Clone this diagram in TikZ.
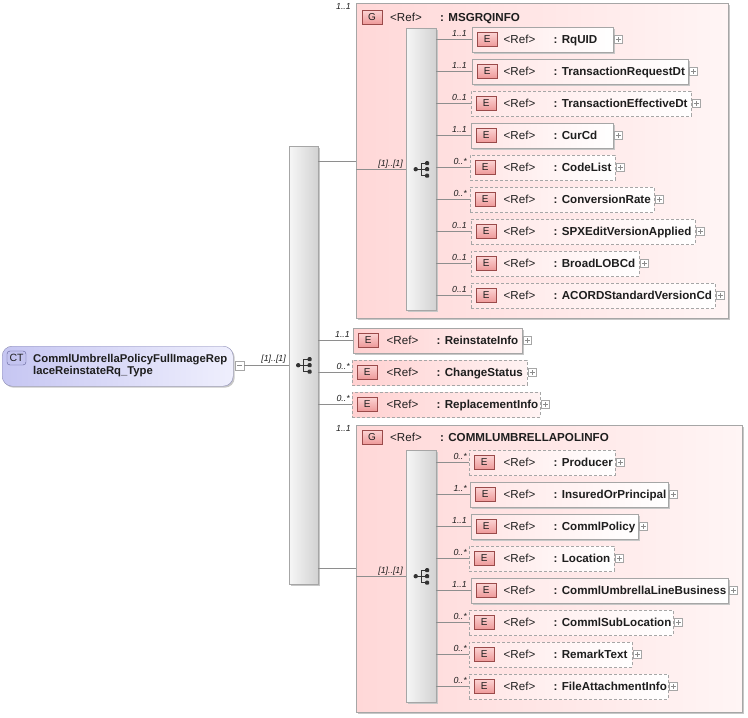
\documentclass[tikz,border=0pt]{standalone}
\usepackage{fontspec}
\setmainfont{Liberation Sans}
\usetikzlibrary{shadows}
\definecolor{grpL}{HTML}{FFD8D8}
\definecolor{grpR}{HTML}{FFF5F5}
\definecolor{elL}{HTML}{FFD0D0}
\definecolor{elR}{HTML}{FFF3F3}
\definecolor{elinL}{HTML}{FFE6E6}
\definecolor{bord}{HTML}{A6A6A6}
\definecolor{conn}{HTML}{8E8E8E}
\definecolor{badgeT}{HTML}{FBD2D2}
\definecolor{badgeB}{HTML}{EE9898}
\definecolor{badgeD}{HTML}{9A4A4A}
\definecolor{ctL}{HTML}{C6C6F2}
\definecolor{ctR}{HTML}{EFEFFD}
\definecolor{ctD}{HTML}{8C8CB4}
\definecolor{ctbF}{HTML}{C4C4F0}
\definecolor{ctbD}{HTML}{5E5E96}
\definecolor{seqL}{HTML}{F6F6F6}
\definecolor{seqR}{HTML}{D2D2D2}
\definecolor{txt}{HTML}{1E1E1E}
\newcommand\fN{\fontsize{11.6}{12}\selectfont}
\tikzset{
  sh/.style={drop shadow={shadow xshift=1.5pt,shadow yshift=-1.5pt,fill=black!22,opacity=1}},
  cn/.style={draw=conn,line width=0.6pt},
  seqbox/.style={draw=bord,left color=seqL,right color=seqR,sh,inner sep=0pt,anchor=north west},
  grpbox/.style={draw=bord,left color=grpL,right color=grpR,sh,inner sep=0pt,anchor=north west},
  elbase/.style={draw=bord,minimum height=25pt,inner sep=0pt,anchor=west},
  elin/.style={elbase,left color=elinL,right color=white},
  elout/.style={elbase,left color=elL,right color=elR},
  elsolid/.style={sh},
  eldash/.style={dash pattern=on 3pt off 2pt},
  badge/.style={draw=badgeD,top color=badgeT,bottom color=badgeB,minimum width=20pt,minimum height=14pt,inner sep=0pt,font=\fontsize{10}{10}\selectfont,text=txt},
  reft/.style={inner sep=0pt,font=\fN,text=txt},
  namet/.style={inner sep=0pt,font=\fN\bfseries,text=txt},
  cttext/.style={inner sep=0pt,font=\fontsize{11.3}{12}\selectfont\bfseries,text=txt},
  multt/.style={inner sep=0pt,font=\fontsize{8.8}{9}\selectfont\itshape,text=txt},
  plusb/.style={draw=bord,fill=white,minimum size=8pt,inner sep=0pt,
    path picture={\draw[black!45,line width=0.5pt]
      ([xshift=-2.5pt]path picture bounding box.center) -- ([xshift=2.5pt]path picture bounding box.center)
      ([yshift=-2.5pt]path picture bounding box.center) -- ([yshift=2.5pt]path picture bounding box.center);}},
  minusb/.style={draw=bord,fill=white,minimum size=9pt,inner sep=0pt,
    path picture={\draw[black!45,line width=0.5pt]
      ([xshift=-2.5pt]path picture bounding box.center) -- ([xshift=2.5pt]path picture bounding box.center);}},
  ctbox/.style={draw=ctD,left color=ctL,right color=ctR,rounded corners=10pt,sh,inner sep=0pt,anchor=north west},
  ctbadge/.style={draw=ctbD,fill=ctbF,rounded corners=3pt,minimum width=19pt,minimum height=14pt,inner sep=0pt,font=\fontsize{10.5}{10.5}\selectfont,text=txt}
}
% #1 name, #2 box left, #3 centre y, #4 width, #5 style, #6 text column, #7 label, #8 multiplicity, #9 sequence
\newcommand\elrow[9]{%
  \node[#5,minimum width=#4pt] (#1) at (#2,#3) {};
  \draw[cn] (#9.east |- #1.west) -- (#1.west);
  \node[badge,anchor=west] (#1-b) at (#2+5,#3) {E};
  \node[reft,anchor=base west] (#1-r) at (#6+26.5,#3+4) {<Ref>};
  \node[namet,anchor=base west] (#1-n) at (#6+76.5,#3+4) {: #7};
  \node[plusb] (#1-p) at ([xshift=5pt]#1.east) {};
  \node[multt,anchor=base east] (#1-m) at (#6-10,#3-3.5) {#8};
}
\newcommand\seqicon[1]{%
  \begin{scope}[shift={(#1.center)},black!80]
    \fill (-5.5,0) circle (2.2);
    \draw[line width=1pt] (-5.5,0) -- (0,0);
    \draw[line width=1pt] (0,-6) -- (0,6.5);
    \draw[line width=1pt] (0,-6) -- (5,-6) (0,6.5) -- (5,6.5) (0,0) -- (5,0);
    \fill[rounded corners=1pt] (4,-8) rectangle (8,-4);
    \fill[rounded corners=1pt] (4,-2) rectangle (8,2);
    \fill[rounded corners=1pt] (4,4.5) rectangle (8,8.5);
  \end{scope}}
\begin{document}
\begin{tikzpicture}[x=1pt,y=-1pt]
\useasboundingbox (0,0) rectangle (748,718);
% groups
\node[grpbox,minimum width=372pt,minimum height=315pt] (g1) at (356,3) {};
\node[grpbox,minimum width=386pt,minimum height=287pt] (g2) at (356,425) {};
% sequences
\node[seqbox,minimum width=29pt,minimum height=438pt] (mseq) at (289,146) {};
\node[seqbox,minimum width=30pt,minimum height=282pt] (seqA) at (406,28) {};
\node[seqbox,minimum width=30pt,minimum height=252pt] (seqB) at (406,450) {};
\seqicon{mseq}
\seqicon{seqA}
\seqicon{seqB}
% group headers
\node[badge] (g1b) at (372,17.5) {G};
\node[reft,anchor=base west] (g1r) at (390,21.5) {<Ref>};
\node[namet,anchor=base west] (g1n) at (440,21.5) {: MSGRQINFO};
\node[multt,anchor=base east] (g1m) at (351,9.5) {1..1};
\node[badge] (g2b) at (372,437.5) {G};
\node[reft,anchor=base west] (g2r) at (390,441.5) {<Ref>};
\node[namet,anchor=base west] (g2n) at (440,441.5) {: COMMLUMBRELLAPOLINFO};
\node[multt,anchor=base east] (g2m) at (351,431.5) {1..1};
% group connectors
\coordinate (g1j) at (356,161);
\coordinate (g2j) at (356,568);
\draw[cn] (mseq.east |- g1j) -- (g1j);
\draw[cn] (mseq.east |- g2j) -- (g2j);
\draw[cn] (g1.west |- seqA.west) -- (seqA.west);
\draw[cn] (g2.west |- seqB.west) -- (seqB.west);
\node[multt,anchor=base east] (g1l) at (403,166.5) {[1]..[1]};
\node[multt,anchor=base east] (g2l) at (403,573) {[1]..[1]};
% CT
\node[ctbox,minimum width=231pt,minimum height=40pt] (ct) at (2,346) {};
\node[ctbadge] (ctb) at (16.5,358) {CT};
\node[cttext,anchor=base west] (ct1) at (33,362.5) {CommlUmbrellaPolicyFullImageRep};
\node[cttext,anchor=base west] (ct2) at (33,374.5) {laceReinstateRq\_Type};
\node[minusb] (ctm) at (239.5,365.5) {};
\draw[cn] (ctm.east) -- (mseq.west |- ctm.east);
\node[multt,anchor=base east] (ctl) at (286,361.5) {[1]..[1]};
% group 1 elements
\elrow{rquid}{472}{39.5}{141}{elin,elsolid}{477}{RqUID}{1..1}{seqA}
\elrow{trdt}{472}{71.5}{216}{elin,elsolid}{477}{TransactionRequestDt}{1..1}{seqA}
\elrow{tedt}{471}{103.5}{220}{elin,eldash}{477}{TransactionEffectiveDt}{0..1}{seqA}
\elrow{curcd}{471}{135.5}{142}{elin,elsolid}{477}{CurCd}{1..1}{seqA}
\elrow{codelist}{470}{167.5}{145}{elin,eldash}{477}{CodeList}{0..*}{seqA}
\elrow{convrate}{470}{199.5}{184}{elin,eldash}{477}{ConversionRate}{0..*}{seqA}
\elrow{spx}{471}{231.5}{224}{elin,eldash}{477}{SPXEditVersionApplied}{0..1}{seqA}
\elrow{blob}{471}{263.5}{168}{elin,eldash}{477}{BroadLOBCd}{0..1}{seqA}
\elrow{acord}{471}{295.5}{244}{elin,eldash}{477}{ACORDStandardVersionCd}{0..1}{seqA}
% outer elements
\elrow{reinst}{353}{340.5}{169}{elout,elsolid}{360}{ReinstateInfo}{1..1}{mseq}
\elrow{chst}{352}{372.5}{175}{elout,eldash}{360}{ChangeStatus}{0..*}{mseq}
\elrow{repl}{352}{404.5}{188}{elout,eldash}{360}{ReplacementInfo}{0..*}{mseq}
% group 2 elements
\elrow{producer}{469}{462.5}{146}{elin,eldash}{477}{Producer}{0..*}{seqB}
\elrow{insured}{470}{494.5}{198}{elin,elsolid}{477}{InsuredOrPrincipal}{1..*}{seqB}
\elrow{cpolicy}{471}{526.5}{167}{elin,elsolid}{477}{CommlPolicy}{1..1}{seqB}
\elrow{location}{469}{558.5}{145}{elin,eldash}{477}{Location}{0..*}{seqB}
\elrow{culb}{471}{590.5}{257}{elin,elsolid}{477}{CommlUmbrellaLineBusiness}{1..1}{seqB}
\elrow{csubloc}{469}{622.5}{204}{elin,eldash}{477}{CommlSubLocation}{0..*}{seqB}
\elrow{remark}{469}{654.5}{163}{elin,eldash}{477}{RemarkText}{0..*}{seqB}
\elrow{fileatt}{469}{686.5}{199}{elin,eldash}{477}{FileAttachmentInfo}{0..*}{seqB}
\end{tikzpicture}
\end{document}
